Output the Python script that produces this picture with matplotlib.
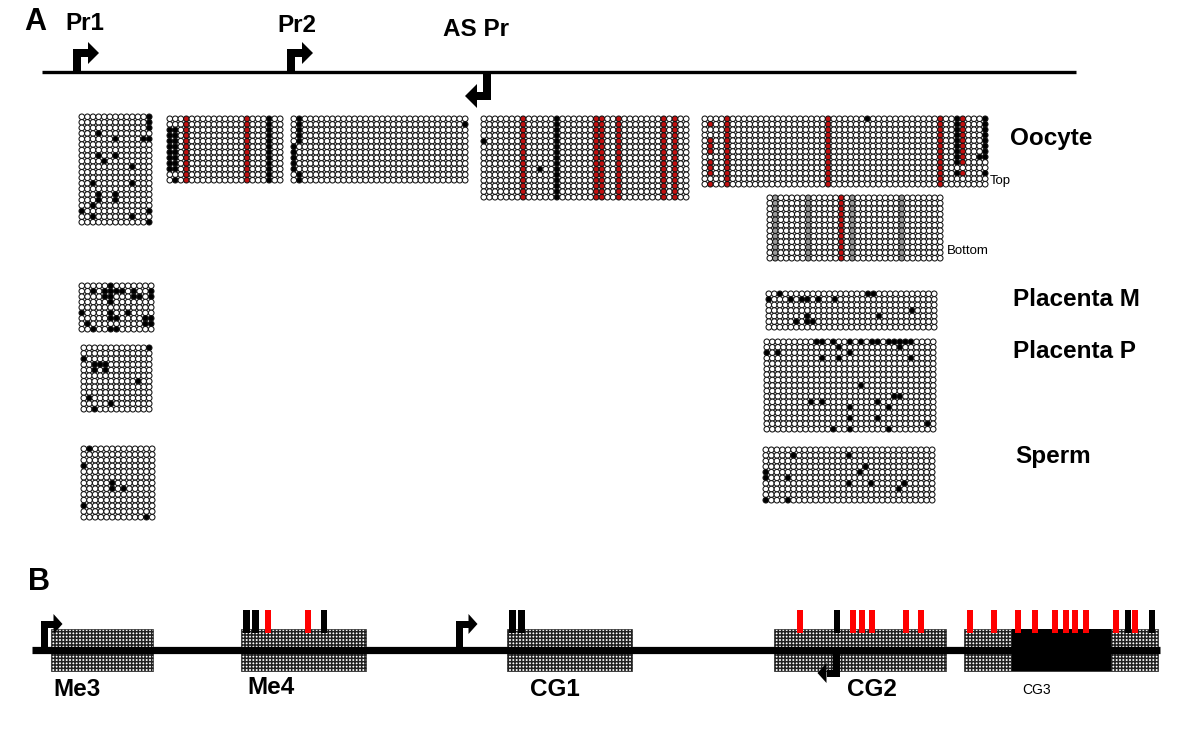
import matplotlib
matplotlib.use('Agg')
import matplotlib.pyplot as plt
from matplotlib.patches import Rectangle, Polygon
import numpy as np

plt.rcParams['font.family'] = ['Liberation Sans', 'DejaVu Sans']
plt.rcParams['hatch.linewidth'] = 1.1

# ---------------- DATA: panel A (bisulfite clones) ----------------
# each block: columns = CpG sites, rows = clones; cells given as (col, row)
O1_black = [(12,0),(12,1),(12,2),(3,3),(6,4),(11,4),(12,4),(3,7),(6,7),(4,8),(9,9),
            (2,12),(9,12),(3,14),(3,15),(6,14),(6,15),(2,16),(0,17),(12,17),(2,18),
            (9,18),(12,19)]
O2_red_cols = [3, 14]
O2_black_cols = [18]
O2_black = [(0,r) for r in range(2,10)] + [(1,r) for r in range(2,10)] + [(1,11)]
O3_black = [(1,r) for r in range(0,5)] + [(0,r) for r in range(5,10)] + [(1,10),(1,11),(31,1)]
O4_red_cols = [7, 20, 21, 24, 32, 34]
O4_black_cols = [13]
O4_black = [(0,4),(10,9)]
O5_red_cols = [4, 22, 42]
O5_red = [(1,r) for r in [1,4,5,6,8,9,10,12]] + [(46,r) for r in list(range(0,9)) + [10]]
O5_black = ([(45,r) for r in list(range(0,9)) + [10]] +
            [(50,r) for r in list(range(0,8)) + [10]] + [(49,7),(29,0)])
O6_gray_cols = [1, 7, 15, 24]
O6_red_cols = [13]
PM1_black = [(5,0),(2,1),(4,1),(5,1),(6,1),(7,1),(9,1),(12,1),(4,2),(5,2),(9,2),(10,2),
             (12,2),(5,3),(0,5),(5,5),(8,5),(5,6),(6,6),(11,6),(12,6),(1,7),(11,7),(12,7),
             (2,8),(5,8),(6,8)]
PP1_black = [(12,0),(0,2),(2,3),(3,3),(4,3),(2,4),(4,4),(10,6),(1,9),(5,10),(2,11)]
S1_black = [(1,0),(0,3),(5,6),(5,7),(7,7),(0,10),(11,12)]
PM2_black = [(2,0),(18,0),(19,0),(0,1),(4,1),(6,1),(7,1),(9,1),(12,1),(26,3),(7,4),
             (20,4),(5,5),(7,5),(8,5)]
PP2_black = ([(c,0) for c in [9,10,12,15,17,19,20,22,23,24,25,26]] +
             [(13,1),(24,1),(0,2),(2,2),(15,2),(10,3),(13,3),(26,3),(17,8),(23,10),(24,10),
              (8,11),(10,11),(20,11),(15,12),(22,12),(15,14),(20,14),(29,15),(12,16),
              (15,16),(22,16)])
S2_black = [(5,1),(15,1),(18,3),(17,4),(0,4),(0,5),(4,5),(15,6),(19,6),(25,6),(24,7),
            (0,9),(4,9)]

row_labels = ['Oocyte', 'Placenta M', 'Placenta P', 'Sperm']
promoter_labels = ['Pr1', 'Pr2', 'AS Pr']

# ---------------- DATA: panel B (gene map) ----------------
region_names = ['Me3', 'Me4', 'CG1', 'CG2', 'CG3']
region_start = [51, 241, 507, 774, 964]
region_end = [153, 366, 632, 946, 1158]
solid_start, solid_end = 1012, 1111
red_sites = [268, 308, 800, 853, 862, 872, 906, 921,
             970, 994, 1018, 1035, 1055, 1066, 1075, 1086, 1116, 1135]
black_sites = [246.5, 255.5, 324, 512.5, 521.5, 837, 1128, 1152]

# ---------------- LAYOUT ----------------
W, H = 1200, 750
fig = plt.figure(figsize=(12, 7.5), dpi=100)
ax = fig.add_axes([0, 0, 1, 1])
ax.set_xlim(0, W)
ax.set_ylim(H, 0)
ax.axis('off')

RED = '#c01010'
GRAY = '#9a9a9a'
D = 5.6  # circle diameter (px)


def block(bbox, ncol, nrow, black=(), red=(), red_cols=(), black_cols=(), gray_cols=()):
    x0, x1, y0, y1 = bbox
    xs = np.linspace(x0 + D / 2, x1 - D / 2, ncol)
    ys = np.linspace(y0 + D / 2, y1 - D / 2, nrow)
    col = {}
    for c in gray_cols:
        for r in range(nrow):
            col[(c, r)] = GRAY
    for c in red_cols:
        for r in range(nrow):
            col[(c, r)] = RED
    for c in black_cols:
        for r in range(nrow):
            col[(c, r)] = 'black'
    for cell in red:
        col[cell] = RED
    for cell in black:
        col[cell] = 'black'
    X, Y, F = [], [], []
    for r in range(nrow):
        for c in range(ncol):
            X.append(xs[c]); Y.append(ys[r]); F.append(col.get((c, r), 'white'))
    s = (D * 72 / 100) ** 2
    ax.scatter(X, Y, s=s, c=F, edgecolors='#111111', linewidths=0.75, zorder=3)


block((79, 152, 114, 225), 13, 20, black=O1_black)
block((167, 283, 116, 183), 21, 12, black=O2_black, red_cols=O2_red_cols, black_cols=O2_black_cols)
block((291, 468, 116, 183), 32, 12, black=O3_black)
block((481, 689, 116, 200), 37, 15, black=O4_black, red_cols=O4_red_cols, black_cols=O4_black_cols)
block((702, 988, 116, 187), 51, 13, black=O5_black, red=O5_red, red_cols=O5_red_cols)
block((767, 943, 195, 261), 32, 12, red_cols=O6_red_cols, gray_cols=O6_gray_cols)
block((79, 154, 283, 332), 13, 9, black=PM1_black)
block((81, 152, 345, 412), 13, 12, black=PP1_black)
block((81, 155, 446, 520), 13, 13, black=S1_black)
block((766, 937, 291, 330), 31, 7, black=PM2_black)
block((764, 936, 339, 432), 31, 17, black=PP2_black)
block((763, 935, 447, 503), 31, 10, black=S2_black)

# panel A map line and promoters
ax.plot([42, 1076], [72, 72], color='black', lw=2.4, solid_capstyle='butt', zorder=2)


def arrow(x, ybase, ytop, direction, stem=6, head_len=10, head_h=10, arm=9):
    # stem from ybase to ytop, then horizontal arm in direction (+1 right, -1 left)
    half = stem / 2
    ax.add_patch(Rectangle((x - half, min(ybase, ytop)), stem, abs(ybase - ytop),
                           color='black', lw=0, zorder=4))
    xa = x - half * direction
    xe = x + half * direction + arm * direction
    ax.add_patch(Rectangle((min(xa, xe), ytop - half), abs(xe - xa), stem,
                           color='black', lw=0, zorder=4))
    ax.add_patch(Polygon([(xe, ytop - head_h), (xe, ytop + head_h),
                          (xe + head_len * direction, ytop)],
                         closed=True, color='black', lw=0, zorder=4))


arrow(77, 72, 53, +1, stem=8, arm=7, head_len=11, head_h=11)
arrow(291, 72, 53, +1, stem=8, arm=7, head_len=11, head_h=11)
arrow(487, 72, 96, -1, stem=8, arm=6, head_len=12, head_h=12)

fs = 17.5
ax.text(24, 22, 'A', fontsize=22, fontweight='bold', va='center', ha='left')
ax.text(65, 24, promoter_labels[0], fontsize=fs, fontweight='bold', va='center')
ax.text(277, 26, promoter_labels[1], fontsize=fs, fontweight='bold', va='center')
ax.text(443, 30, promoter_labels[2], fontsize=fs, fontweight='bold', va='center')

ax.text(1010, 138, row_labels[0], fontsize=fs, fontweight='bold', va='center')
ax.text(1013, 300, row_labels[1], fontsize=fs, fontweight='bold', va='center')
ax.text(1013, 352, row_labels[2], fontsize=fs, fontweight='bold', va='center')
ax.text(1015, 457, row_labels[3], fontsize=fs, fontweight='bold', va='center')
ax.text(990, 181, 'Top', fontsize=9.5, va='center')
ax.text(947, 251, 'Bottom', fontsize=9.5, va='center')

# ---------------- panel B ----------------
ax.text(28, 582, 'B', fontsize=22, fontweight='bold', va='center', ha='left')
ax.plot([32, 1160], [650, 650], color='black', lw=5.2, solid_capstyle='butt', zorder=3)
BY0, BY1 = 629, 671
for s0, s1 in zip(region_start, region_end):
    ax.add_patch(Rectangle((s0, BY0), s1 - s0, BY1 - BY0, facecolor='white',
                           edgecolor='#202020', hatch='+++++', lw=0.5, zorder=2))
ax.add_patch(Rectangle((solid_start, BY0), solid_end - solid_start, BY1 - BY0,
                       color='black', lw=0, zorder=4))
BW = 6.5
for p in red_sites:
    ax.add_patch(Rectangle((p - BW / 2, 610), BW, 23, color='#ff0000', lw=0, zorder=5))
for p in black_sites:
    ax.add_patch(Rectangle((p - BW / 2, 610), BW, 23, color='black', lw=0, zorder=5))

arrow(44, 650, 624, +1, stem=7, arm=6, head_len=9, head_h=10)
arrow(459, 650, 624, +1, stem=7, arm=6, head_len=9, head_h=10)
arrow(836, 650, 673, -1, stem=7, arm=6, head_len=9, head_h=10)

ax.text(53, 690, region_names[0], fontsize=fs, fontweight='bold', va='center')
ax.text(247, 688, region_names[1], fontsize=fs, fontweight='bold', va='center')
ax.text(530, 690, region_names[2], fontsize=fs, fontweight='bold', va='center')
ax.text(847, 690, region_names[3], fontsize=fs, fontweight='bold', va='center')
ax.text(1022, 690, region_names[4], fontsize=10, va='center')

fig.savefig('out.png', dpi=100)
